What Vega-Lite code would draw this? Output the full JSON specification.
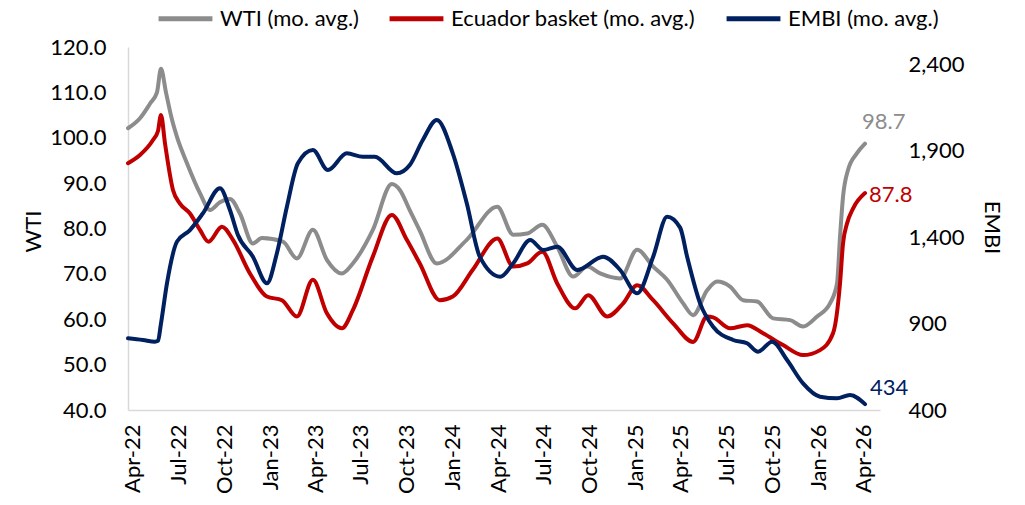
{
  "$schema": "https://vega.github.io/schema/vega-lite/v6.json",
  "width": 752,
  "height": 363,
  "autosize": {"type": "none"},
  "padding": {"left": 128, "top": 47, "right": 145, "bottom": 95},
  "background": "white",
  "config": {
    "view": {"stroke": null},
    "font": "Lato",
    "axis": {"labelFont": "Lato", "labelFontSize": 22, "labelColor": "#000000", "titleFont": "Lato", "titleFontSize": 22, "titleFontWeight": "normal", "titleColor": "#000000", "grid": false, "ticks": false, "tickSize": 0},
    "legend": {"labelFont": "Lato", "labelFontSize": 22, "labelColor": "#000000", "labelLimit": 400}
  },
  "datasets": {
    "wti": [
      {"d":"2022/03/22","v":102.1},{"d":"2022/04/15","v":104.3},{"d":"2022/05/05","v":107.5},{"d":"2022/05/19","v":110.0},
      {"d":"2022/05/27","v":115.2},{"d":"2022/06/06","v":110.0},{"d":"2022/06/18","v":104.0},{"d":"2022/06/28","v":100.2},
      {"d":"2022/07/18","v":94.4},{"d":"2022/08/13","v":87.8},{"d":"2022/09/02","v":84.1},{"d":"2022/09/22","v":85.8},
      {"d":"2022/10/12","v":86.5},{"d":"2022/11/01","v":83.3},{"d":"2022/11/27","v":76.7},{"d":"2022/12/15","v":77.9},
      {"d":"2023/01/26","v":77.1},{"d":"2023/02/23","v":73.4},{"d":"2023/03/27","v":79.7},
      {"d":"2023/04/24","v":73.1},{"d":"2023/05/24","v":70.1},{"d":"2023/06/15","v":72.3},{"d":"2023/07/25","v":79.7},
      {"d":"2023/09/01","v":89.8},{"d":"2023/09/17","v":88.5},{"d":"2023/10/07","v":84.0},{"d":"2023/10/27","v":79.5},
      {"d":"2023/11/30","v":72.3},{"d":"2024/01/29","v":77.5},{"d":"2024/03/30","v":84.8},{"d":"2024/05/01","v":78.6},
      {"d":"2024/05/29","v":78.9},{"d":"2024/06/28","v":80.8},{"d":"2024/07/28","v":76.0},{"d":"2024/08/29","v":69.4},
      {"d":"2024/09/26","v":71.6},{"d":"2024/10/22","v":70.1},{"d":"2024/12/01","v":69.0},{"d":"2025/01/04","v":75.3},
      {"d":"2025/02/05","v":71.6},{"d":"2025/03/05","v":68.7},{"d":"2025/04/06","v":63.5},{"d":"2025/04/26","v":60.9},
      {"d":"2025/05/24","v":66.4},{"d":"2025/06/13","v":68.3},{"d":"2025/07/09","v":67.2},{"d":"2025/08/04","v":64.2},
      {"d":"2025/09/01","v":63.9},{"d":"2025/10/03","v":60.2},{"d":"2025/11/06","v":59.8},{"d":"2025/12/02","v":58.4},
      {"d":"2025/12/30","v":60.6},{"d":"2026/01/25","v":63.5},{"d":"2026/02/08","v":67.9},{"d":"2026/02/14","v":78.2},
      {"d":"2026/02/20","v":87.0},{"d":"2026/03/02","v":92.9},{"d":"2026/03/20","v":96.6},{"d":"2026/04/05","v":98.7}
    ],
    "ecu": [
      {"d":"2022/03/22","v":94.4},{"d":"2022/04/15","v":96.2},{"d":"2022/05/11","v":99.5},{"d":"2022/05/21","v":101.5},
      {"d":"2022/05/27","v":105.0},{"d":"2022/06/04","v":98.8},{"d":"2022/06/20","v":88.5},{"d":"2022/07/04","v":85.5},
      {"d":"2022/07/24","v":83.3},{"d":"2022/08/13","v":79.7},{"d":"2022/08/30","v":77.1},{"d":"2022/09/26","v":80.4},
      {"d":"2022/10/18","v":77.5},{"d":"2022/11/21","v":70.1},{"d":"2022/12/25","v":65.0},{"d":"2023/01/24","v":64.2},
      {"d":"2023/02/23","v":60.6},{"d":"2023/03/27","v":68.7},{"d":"2023/04/24","v":61.3},{"d":"2023/05/24","v":58.0},
      {"d":"2023/06/15","v":62.0},{"d":"2023/07/25","v":73.8},{"d":"2023/09/01","v":83.0},{"d":"2023/10/01","v":77.5},
      {"d":"2023/10/27","v":72.3},{"d":"2023/12/06","v":64.2},{"d":"2024/01/01","v":65.0},{"d":"2024/02/10","v":70.9},
      {"d":"2024/03/30","v":77.8},{"d":"2024/05/01","v":71.6},{"d":"2024/05/29","v":72.3},{"d":"2024/06/28","v":74.9},
      {"d":"2024/07/28","v":67.9},{"d":"2024/09/02","v":62.4},{"d":"2024/09/28","v":65.3},{"d":"2024/11/05","v":60.6},
      {"d":"2024/12/07","v":63.5},{"d":"2025/01/04","v":67.5},{"d":"2025/02/05","v":64.2},{"d":"2025/03/17","v":59.1},
      {"d":"2025/04/26","v":55.0},{"d":"2025/05/24","v":60.6},{"d":"2025/06/05","v":60.4},{"d":"2025/07/09","v":58.0},
      {"d":"2025/08/12","v":58.7},{"d":"2025/09/13","v":56.9},{"d":"2025/10/23","v":54.3},{"d":"2025/12/02","v":52.1},
      {"d":"2026/01/05","v":53.2},{"d":"2026/01/31","v":56.9},{"d":"2026/02/14","v":67.9},{"d":"2026/02/20","v":76.7},
      {"d":"2026/02/28","v":81.1},{"d":"2026/03/12","v":84.4},{"d":"2026/04/05","v":87.8}
    ],
    "embi": [
      {"d":"2022/03/22","v":815},{"d":"2022/04/21","v":805},{"d":"2022/05/15","v":795},{"d":"2022/05/21","v":800},
      {"d":"2022/05/27","v":900},{"d":"2022/06/08","v":1133},{"d":"2022/06/28","v":1374},{"d":"2022/07/24","v":1441},
      {"d":"2022/08/19","v":1538},{"d":"2022/09/22","v":1683},{"d":"2022/10/12","v":1557},{"d":"2022/10/28","v":1412},
      {"d":"2022/11/27","v":1287},{"d":"2022/12/25","v":1133},{"d":"2023/01/14","v":1307},{"d":"2023/02/03","v":1576},
      {"d":"2023/02/25","v":1827},{"d":"2023/03/27","v":1904},{"d":"2023/04/26","v":1788},{"d":"2023/06/03","v":1885},
      {"d":"2023/07/05","v":1865},{"d":"2023/07/29","v":1865},{"d":"2023/09/11","v":1769},{"d":"2023/10/07","v":1817},
      {"d":"2023/11/02","v":1962},{"d":"2023/11/30","v":2078},{"d":"2024/01/01","v":1885},{"d":"2024/01/29","v":1596},
      {"d":"2024/02/24","v":1287},{"d":"2024/04/05","v":1171},{"d":"2024/05/01","v":1249},{"d":"2024/06/04","v":1383},
      {"d":"2024/06/30","v":1326},{"d":"2024/07/28","v":1345},{"d":"2024/09/06","v":1210},{"d":"2024/10/28","v":1287},
      {"d":"2024/12/01","v":1210},{"d":"2025/01/04","v":1075},{"d":"2025/02/05","v":1287},{"d":"2025/03/05","v":1518},
      {"d":"2025/03/31","v":1455},{"d":"2025/04/14","v":1287},{"d":"2025/05/10","v":1017},{"d":"2025/06/05","v":882},
      {"d":"2025/07/15","v":805},{"d":"2025/08/12","v":786},{"d":"2025/09/03","v":737},{"d":"2025/10/01","v":795},
      {"d":"2025/10/31","v":689},{"d":"2025/12/02","v":554},{"d":"2026/01/05","v":477},{"d":"2026/02/08","v":468},
      {"d":"2026/03/06","v":487},{"d":"2026/04/05","v":434}
    ]
  },
  "encoding": {
    "x": {
      "field": "d", "type": "temporal",
      "scale": {"domain": [{"year": 2022, "month": 3, "date": 22}, {"year": 2026, "month": 5, "date": 5}]},
      "axis": {"title": null, "format": "%b-%y", "tickCount": {"interval": "month", "step": 3}, "labelAngle": -90, "labelPadding": 14, "labelOverlap": false, "labelFlush": false, "domainColor": "#D9D9D9", "domainWidth": 1.5}
    }
  },
  "layer": [
    {
      "encoding": {
        "y": {"field": "v", "type": "quantitative",
          "scale": {"domain": [40, 120], "nice": false, "zero": false},
          "axis": {"orient": "left", "title": "WTI", "values": [40,50,60,70,80,90,100,110,120], "format": ".1f", "labelPadding": 22, "domainColor": "#D9D9D9", "domainWidth": 1.5, "titleAngle": -90, "titleX": -95, "titleY": 184, "titleBaseline": "middle"}}
      },
      "layer": [
        {
          "data": {"name": "wti"},
          "mark": {"type": "line", "interpolate": "monotone", "strokeWidth": 4, "strokeCap": "round", "strokeJoin": "round"},
          "encoding": {"color": {"datum": "WTI (mo. avg.)", "type": "nominal",
            "scale": {"domain": ["WTI (mo. avg.)", "Ecuador basket (mo. avg.)", "EMBI (mo. avg.)"], "range": ["#8C8C8C", "#C00000", "#002060"]},
            "legend": {"title": null, "orient": "none", "legendX": 28, "legendY": -58, "direction": "horizontal", "symbolType": "stroke", "symbolStrokeWidth": 5, "symbolSize": 2900, "labelOffset": 5, "columnPadding": 20}}}
        },
        {
          "data": {"name": "ecu"},
          "mark": {"type": "line", "interpolate": "monotone", "strokeWidth": 4, "strokeCap": "round", "strokeJoin": "round"},
          "encoding": {"color": {"datum": "Ecuador basket (mo. avg.)", "type": "nominal"}}
        },
        {
          "data": {"name": "wti"},
          "transform": [{"filter": "year(datum.d) == 2026 && month(datum.d) == 3"}],
          "mark": {"type": "text", "align": "left", "baseline": "middle", "dx": -3, "dy": -22, "fontSize": 22, "font": "Lato", "color": "#8C8C8C"},
          "encoding": {"text": {"field": "v", "type": "quantitative", "format": ".1f"}}
        },
        {
          "data": {"name": "ecu"},
          "transform": [{"filter": "year(datum.d) == 2026 && month(datum.d) == 3"}],
          "mark": {"type": "text", "align": "left", "baseline": "middle", "dx": 4, "dy": 2, "fontSize": 22, "font": "Lato", "color": "#C00000"},
          "encoding": {"text": {"field": "v", "type": "quantitative", "format": ".1f"}}
        }
      ]
    },
    {
      "encoding": {
        "y": {"field": "v", "type": "quantitative",
          "scale": {"domain": [400, 2500], "nice": false, "zero": false},
          "axis": {"orient": "right", "title": "EMBI", "values": [400, 900, 1400, 1900, 2400], "format": ",.0f", "labelPadding": 28, "domain": false, "titleAngle": 90, "titleX": 111, "titleY": 180, "titleBaseline": "middle"}}
      },
      "layer": [
        {
          "data": {"name": "embi"},
          "mark": {"type": "line", "interpolate": "monotone", "strokeWidth": 4, "strokeCap": "round", "strokeJoin": "round"},
          "encoding": {"color": {"datum": "EMBI (mo. avg.)", "type": "nominal"}}
        },
        {
          "data": {"name": "embi"},
          "transform": [{"filter": "year(datum.d) == 2026 && month(datum.d) == 3"}],
          "mark": {"type": "text", "align": "left", "baseline": "middle", "dx": 5, "dy": -16, "fontSize": 22, "font": "Lato", "color": "#002060"},
          "encoding": {"text": {"field": "v", "type": "quantitative", "format": ",.0f"}}
        }
      ]
    }
  ],
  "resolve": {"scale": {"y": "independent"}}
}
